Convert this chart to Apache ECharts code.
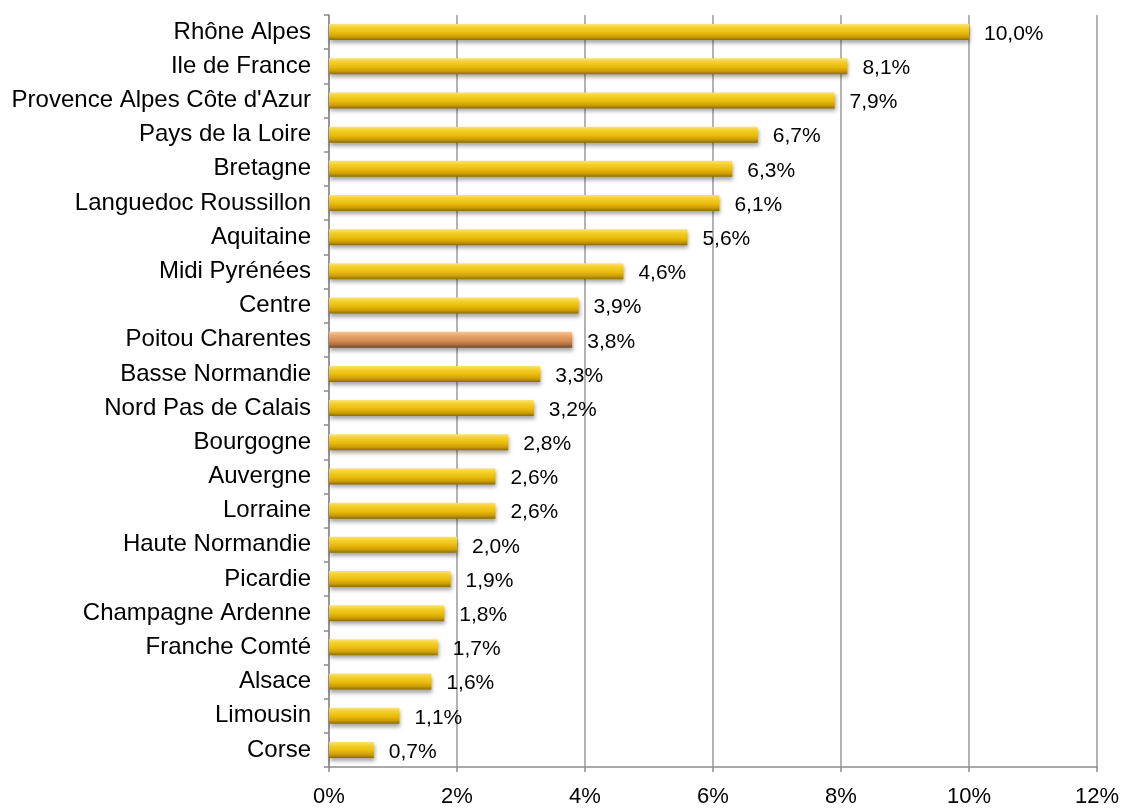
<!DOCTYPE html>
<html>
<head>
<meta charset="utf-8">
<script src="https://cdn.jsdelivr.net/npm/echarts@6/dist/echarts.min.js"></script>
<style>
html,body{margin:0;padding:0;background:#fff;}
#chart{width:1123px;height:808px;}
</style>
</head>
<body>
<div id="chart"></div>
<script>
const categories = ["Rhône Alpes","Ile de France","Provence Alpes Côte d'Azur","Pays de la Loire","Bretagne","Languedoc Roussillon","Aquitaine","Midi Pyrénées","Centre","Poitou Charentes","Basse Normandie","Nord Pas de Calais","Bourgogne","Auvergne","Lorraine","Haute Normandie","Picardie","Champagne Ardenne","Franche Comté","Alsace","Limousin","Corse"];
const values = [10.0,8.1,7.9,6.7,6.3,6.1,5.6,4.6,3.9,3.8,3.3,3.2,2.8,2.6,2.6,2.0,1.9,1.8,1.7,1.6,1.1,0.7];
const highlighted = ["Poitou Charentes"];
const xTicks = [0,2,4,6,8,10,12];

const FONT = '"Liberation Sans", Arial, sans-serif';
const gold = new echarts.graphic.LinearGradient(0,0,0,1,[
  {offset:0,color:'#FBE27A'},
  {offset:0.2,color:'#F5D22E'},
  {offset:0.55,color:'#E9BB0A'},
  {offset:0.8,color:'#CC9D06'},
  {offset:1,color:'#8E6B00'}
]);
const brown = new echarts.graphic.LinearGradient(0,0,0,1,[
  {offset:0,color:'#F8C79A'},
  {offset:0.2,color:'#EDAA70'},
  {offset:0.55,color:'#D48D52'},
  {offset:0.8,color:'#B0703E'},
  {offset:1,color:'#70462A'}
]);

const data = values.map((v,i)=>({
  value: v,
  itemStyle: {color: highlighted.includes(categories[i]) ? brown : gold}
}));

const chart = echarts.init(document.getElementById('chart'));
chart.setOption({
  animation:false,
  grid:{left:329,right:26,top:15,bottom:40,containLabel:false},
  xAxis:{
    type:'value', min:xTicks[0], max:xTicks[xTicks.length-1], interval:2,
    axisLine:{show:true,lineStyle:{color:'#8c8c8c',width:1.5}},
    axisTick:{show:true,length:5,lineStyle:{color:'#8c8c8c',width:1.5}},
    splitLine:{show:true,lineStyle:{color:'#9a9a9a',width:1.5}},
    axisLabel:{formatter:'{value}%',color:'#000',fontFamily:FONT,fontSize:22,margin:19}
  },
  yAxis:{
    type:'category', data:categories, inverse:true,
    axisLine:{show:true,lineStyle:{color:'#8c8c8c',width:1.5}},
    axisTick:{show:true,length:5,lineStyle:{color:'#8c8c8c',width:1.5}},
    axisLabel:{color:'#000',fontFamily:FONT,fontSize:24,margin:18}
  },
  series:[{
    type:'bar', data:data, barWidth:16,
    itemStyle:{shadowColor:'rgba(0,0,0,0.35)',shadowBlur:4,shadowOffsetX:1,shadowOffsetY:3},
    label:{show:true,position:'right',distance:15,offset:[0,2],color:'#000',fontFamily:FONT,fontSize:21,
      formatter:p=>p.value.toFixed(1).replace('.',',')+'%'}
  }]
});
</script>
</body>
</html>
